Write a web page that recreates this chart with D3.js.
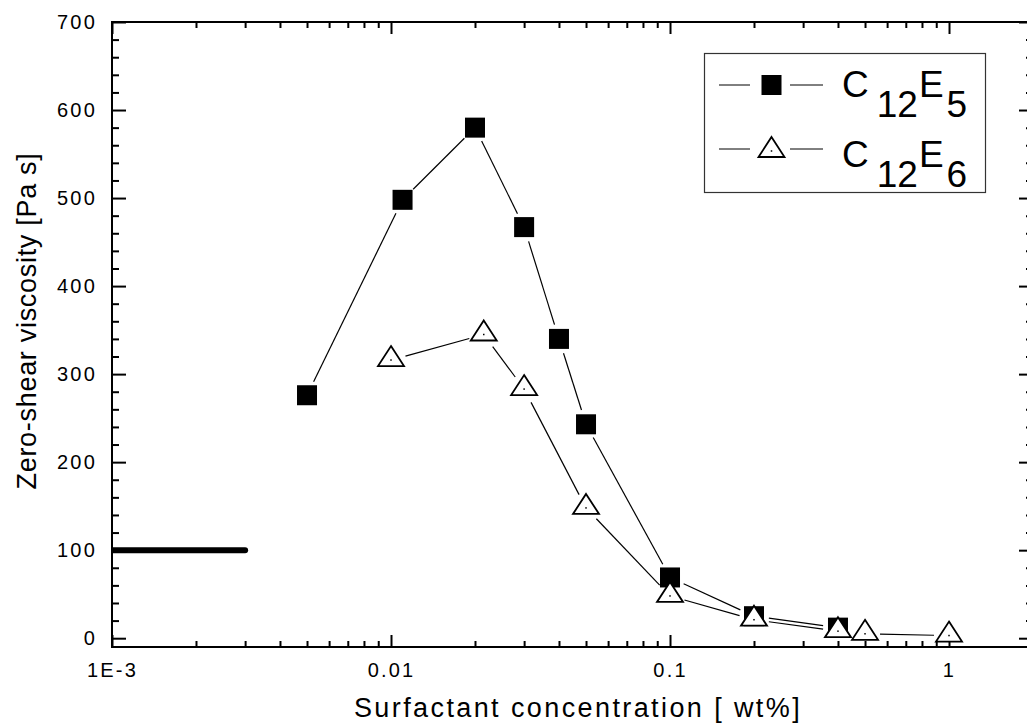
<!DOCTYPE html>
<html>
<head>
<meta charset="utf-8">
<script src="https://cdn.jsdelivr.net/npm/d3@7"></script>
<style>
  html, body { margin: 0; padding: 0; background: #fff; }
  svg { display: block; font-family: "Liberation Sans", Arial, sans-serif; }
</style>
</head>
<body>
<svg id="chart" width="1027" height="724"></svg>
<script>
// ---- data ----
const e5Conc = [0.005, 0.011, 0.02, 0.03, 0.04, 0.05, 0.1, 0.2, 0.4];
const e5Visc = [276, 498, 580, 467, 340, 243, 69, 25, 12];
const e6Conc = [0.01, 0.0215, 0.03, 0.05, 0.1, 0.2, 0.4, 0.5, 1.0];
const e6Visc = [316, 345, 283, 148, 48, 21, 8, 5, 3];
const refConc = [0.001, 0.003];
const refVisc = [100, 100];
const xMajorTicks = [0.001, 0.01, 0.1, 1];
const xTickLabels = ["1E-3", "0.01", "0.1", "1"];
const yMajorTicks = [0, 100, 200, 300, 400, 500, 600, 700];
const yTickLabels = ["0", "100", "200", "300", "400", "500", "600", "700"];
const seriesNames = ["E5", "E6"];

// ---- layout ----
const L = 112, R = 1033, T = 22, B = 647;
const svg = d3.select("#chart");

const x = d3.scaleLog().domain([0.001, 2]).range([L, R]);
const y = d3.scaleLinear().domain([-10, 700]).range([B, T]);

const xMinor = [];
[0.001, 0.01, 0.1, 1].forEach(d => { for (let k = 2; k <= 9; k++) { const v = d * k; if (v <= 2.0001) xMinor.push(v); } });
const yMinor = d3.range(0, 701, 20).filter(v => v % 100 !== 0);

function styleAxis(g) {
  g.attr("font-family", null).attr("font-size", null);
  g.select(".domain").remove();
  g.selectAll(".tick line").attr("stroke", "#000").attr("stroke-width", 2);
  g.selectAll(".tick text").attr("fill", "#000");
}

const tickFont = 20, tickSpacing = 2.2;

// bottom
svg.append("g").attr("transform", `translate(0,${B})`)
  .call(d3.axisBottom(x).tickValues(xMajorTicks).tickSizeInner(-12).tickSizeOuter(0).tickPadding(16)
    .tickFormat((d, i) => xTickLabels[i]))
  .call(styleAxis)
  .call(g => g.selectAll(".tick text").attr("font-size", tickFont).attr("letter-spacing", tickSpacing)
    .attr("dy", "0.71em"));
svg.append("g").attr("transform", `translate(0,${B})`)
  .call(d3.axisBottom(x).tickValues(xMinor).tickSizeInner(-6).tickSizeOuter(0).tickFormat(""))
  .call(styleAxis);
// top
svg.append("g").attr("transform", `translate(0,${T})`)
  .call(d3.axisTop(x).tickValues(xMajorTicks).tickSizeInner(-12).tickSizeOuter(0).tickFormat(""))
  .call(styleAxis);
svg.append("g").attr("transform", `translate(0,${T})`)
  .call(d3.axisTop(x).tickValues(xMinor).tickSizeInner(-6).tickSizeOuter(0).tickFormat(""))
  .call(styleAxis);
// left
svg.append("g").attr("transform", `translate(${L},0)`)
  .call(d3.axisLeft(y).tickValues(yMajorTicks).tickSizeInner(-14).tickSizeOuter(0).tickPadding(15)
    .tickFormat((d, i) => yTickLabels[i]))
  .call(styleAxis)
  .call(g => g.selectAll(".tick text").attr("font-size", tickFont).attr("letter-spacing", tickSpacing));
svg.append("g").attr("transform", `translate(${L},0)`)
  .call(d3.axisLeft(y).tickValues(yMinor).tickSizeInner(-7).tickSizeOuter(0).tickFormat(""))
  .call(styleAxis);
// right
svg.append("g").attr("transform", `translate(${R},0)`)
  .call(d3.axisRight(y).tickValues(yMajorTicks).tickSizeInner(-14).tickSizeOuter(0).tickFormat(""))
  .call(styleAxis);
svg.append("g").attr("transform", `translate(${R},0)`)
  .call(d3.axisRight(y).tickValues(yMinor).tickSizeInner(-7).tickSizeOuter(0).tickFormat(""))
  .call(styleAxis);

// frame
svg.append("rect").attr("x", L).attr("y", T).attr("width", R - L).attr("height", B - T)
  .attr("fill", "none").attr("stroke", "#000").attr("stroke-width", 2);

// axis titles
svg.append("text").attr("x", 578).attr("y", 717).attr("text-anchor", "middle")
  .attr("font-size", 27).attr("letter-spacing", 2.4).text("Surfactant concentration [ wt%]");
svg.append("text").attr("transform", "translate(36,321) rotate(-90)").attr("text-anchor", "middle")
  .attr("font-size", 27).attr("letter-spacing", 0.7).text("Zero-shear viscosity [Pa s]");

// clip
svg.append("clipPath").attr("id", "plotclip").append("rect")
  .attr("x", L).attr("y", T).attr("width", R - L).attr("height", B - T);

// reference thick line
svg.append("path").attr("clip-path", "url(#plotclip)")
  .attr("d", d3.line()(refConc.map((c, i) => [x(c), y(refVisc[i])])))
  .attr("stroke", "#000").attr("stroke-width", 6).attr("stroke-linecap", "round").attr("fill", "none");

// connecting lines with gaps around markers
const GAP = 15;
function gappedSegments(xs, ys) {
  const pts = xs.map((c, i) => [x(c), y(ys[i])]);
  const segs = [];
  for (let i = 0; i < pts.length - 1; i++) {
    const [x1, y1] = pts[i], [x2, y2] = pts[i + 1];
    const dx = x2 - x1, dy = y2 - y1, len = Math.hypot(dx, dy);
    if (len <= 2 * GAP) continue;
    const ux = dx / len, uy = dy / len;
    segs.push([[x1 + ux * GAP, y1 + uy * GAP], [x2 - ux * GAP, y2 - uy * GAP]]);
  }
  return segs;
}
const lineGen = d3.line();
[[e5Conc, e5Visc], [e6Conc, e6Visc]].forEach(([xs, ys]) => {
  svg.append("g").selectAll("path").data(gappedSegments(xs, ys)).join("path")
    .attr("d", d => lineGen(d)).attr("stroke", "#000").attr("stroke-width", 1.2).attr("fill", "none");
});

// markers
const SQ = 20;
function drawSquare(g, cx, cy) {
  g.append("rect").attr("x", cx - SQ / 2).attr("y", cy - SQ / 2).attr("width", SQ).attr("height", SQ).attr("fill", "#000");
}
function drawTriangle(g, cx, cy) {
  g.append("path").attr("d", `M${cx},${cy - 14}L${cx + 13},${cy + 6}L${cx - 13},${cy + 6}Z`)
    .attr("fill", "#fff").attr("stroke", "#000").attr("stroke-width", 1.8).attr("stroke-linejoin", "miter");
  g.append("rect").attr("x", cx - 0.75).attr("y", cy - 0.75).attr("width", 1.5).attr("height", 1.5).attr("fill", "#000");
}
const mk = svg.append("g");
e5Conc.forEach((c, i) => drawSquare(mk, x(c), y(e5Visc[i])));
e6Conc.forEach((c, i) => drawTriangle(mk, x(c), y(e6Visc[i])));

// legend
const lg = svg.append("g");
lg.append("rect").attr("x", 704.5).attr("y", 53.5).attr("width", 281).attr("height", 139)
  .attr("fill", "#fff").attr("stroke", "#333").attr("stroke-width", 1.2);
const rows = [{ y: 85, base: 97, sub: "5", marker: drawSquare },
              { y: 149, base: 167, sub: "6", marker: drawTriangle }];
rows.forEach(r => {
  lg.append("line").attr("x1", 719).attr("x2", 750).attr("y1", r.y).attr("y2", r.y).attr("stroke", "#000").attr("stroke-width", 1);
  lg.append("line").attr("x1", 790).attr("x2", 823).attr("y1", r.y).attr("y2", r.y).attr("stroke", "#000").attr("stroke-width", 1);
  r.marker(lg, 771.5, r.y + (r.marker === drawTriangle ? 2 : 0));
  const t = lg.append("text").attr("x", 842).attr("y", r.base).attr("font-size", 37);
  t.append("tspan").text("C");
  t.append("tspan").attr("dx", 8).attr("dy", 20).text("12");
  t.append("tspan").attr("dx", 1).attr("dy", -20).text("E");
  t.append("tspan").attr("dx", 3).attr("dy", 20).text(r.sub);
});
</script>
</body>
</html>
